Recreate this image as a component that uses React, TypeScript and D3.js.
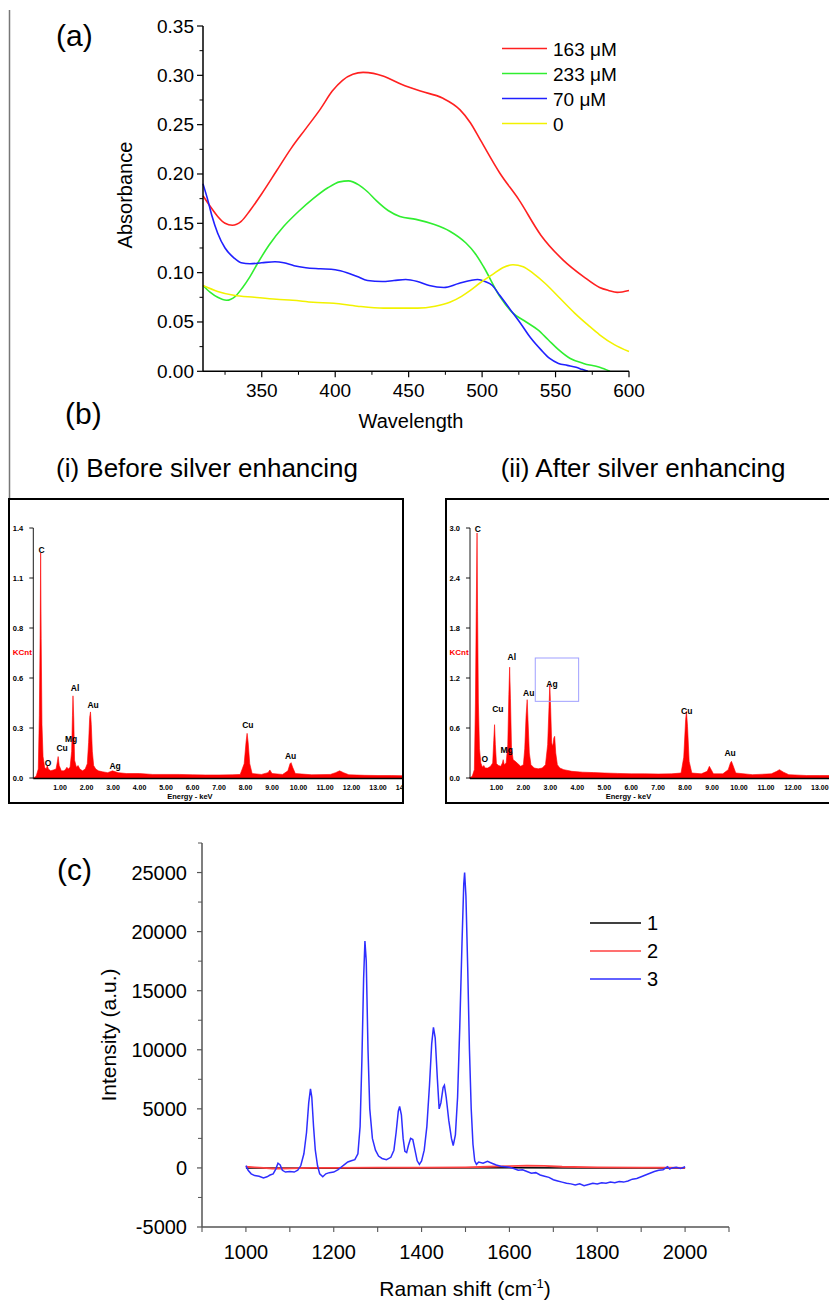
import React from "react";
import * as d3 from "d3";

const FONT = "'Liberation Sans', Arial, Helvetica, sans-serif";

// ---------- Panel (a) data: [wavelength nm, absorbance]
const seriesNamesA = ["163 μM", "233 μM", "70 μM", "0"];
const colorsA = ["#ff2020", "#30ee30", "#2020ff", "#f2f200"];
const abs163: [number, number][] = [
  [310, 0.178], [315, 0.167], [320, 0.157], [325, 0.150], [330, 0.148], [336, 0.152], [342, 0.163],
  [350, 0.180], [360, 0.203], [370, 0.226], [380, 0.246], [390, 0.266], [398, 0.284], [405, 0.295],
  [412, 0.301], [419, 0.303], [426, 0.302], [433, 0.299], [445, 0.291], [458, 0.284], [473, 0.277],
  [485, 0.265], [492, 0.252], [499, 0.234], [512, 0.201], [525, 0.174], [540, 0.138], [555, 0.113],
  [569, 0.096], [580, 0.085], [586, 0.082], [592, 0.080], [600, 0.082],
];
const abs233: [number, number][] = [
  [310, 0.087], [315, 0.080], [320, 0.075], [326, 0.072], [332, 0.076], [337, 0.085], [342, 0.096],
  [347, 0.109], [355, 0.128], [365, 0.147], [375, 0.162], [385, 0.175], [395, 0.186], [403, 0.192],
  [409, 0.193], [416, 0.189], [422, 0.182], [428, 0.173], [436, 0.163], [444, 0.157], [455, 0.154],
  [467, 0.149], [478, 0.142], [489, 0.130], [495, 0.120], [501, 0.106], [512, 0.076], [521, 0.059],
  [530, 0.050], [538, 0.042], [545, 0.032], [552, 0.022], [560, 0.013], [569, 0.008], [580, 0.004],
  [587, 0.0],
];
const abs70: [number, number][] = [
  [310, 0.190], [313, 0.175], [316, 0.158], [320, 0.140], [325, 0.125], [331, 0.115], [336, 0.110],
  [342, 0.109], [350, 0.110], [359, 0.111], [365, 0.110], [372, 0.107], [380, 0.105], [390, 0.104],
  [400, 0.103], [408, 0.100], [415, 0.096], [422, 0.092], [432, 0.091], [440, 0.092], [448, 0.093],
  [456, 0.091], [464, 0.087], [474, 0.085], [484, 0.089], [492, 0.092], [497, 0.093], [502, 0.091],
  [507, 0.087], [512, 0.077], [519, 0.063], [526, 0.049], [533, 0.034], [540, 0.022], [546, 0.013],
  [552, 0.008], [558, 0.006], [564, 0.004], [568, 0.002], [572, 0.0],
];
const abs0: [number, number][] = [
  [310, 0.087], [320, 0.081], [331, 0.077], [345, 0.075], [360, 0.073], [371, 0.072], [385, 0.070],
  [399, 0.069], [415, 0.066], [433, 0.064], [445, 0.064], [456, 0.064], [468, 0.066], [478, 0.070],
  [486, 0.076], [492, 0.082], [499, 0.090], [507, 0.098], [514, 0.105], [521, 0.108], [528, 0.106],
  [535, 0.099], [543, 0.089], [553, 0.074], [563, 0.059], [572, 0.047], [580, 0.037], [590, 0.027],
  [600, 0.020],
];
const xTicksA = [350, 400, 450, 500, 550, 600];
const yTicksA = [0, 0.05, 0.1, 0.15, 0.2, 0.25, 0.3, 0.35];

// ---------- Panel (b) EDS data: [keV, KCnt]
const edsBefore: [number, number][] = [
  [0.0, 0], [0.1, 0.01], [0.18, 0.05], [0.22, 0.35], [0.25, 0.8], [0.27, 1.26], [0.29, 0.78], [0.32, 0.3],
  [0.36, 0.12], [0.42, 0.06], [0.48, 0.05], [0.52, 0.07], [0.56, 0.05], [0.65, 0.04], [0.75, 0.045],
  [0.85, 0.05], [0.9, 0.09], [0.93, 0.12], [0.97, 0.07], [1.05, 0.04], [1.15, 0.04], [1.22, 0.05],
  [1.26, 0.06], [1.31, 0.05], [1.38, 0.06], [1.44, 0.15], [1.47, 0.35], [1.49, 0.46], [1.52, 0.33],
  [1.55, 0.1], [1.62, 0.06], [1.68, 0.07], [1.75, 0.05], [1.85, 0.04], [1.95, 0.05], [2.03, 0.08],
  [2.08, 0.2], [2.12, 0.34], [2.15, 0.37], [2.18, 0.3], [2.22, 0.15], [2.27, 0.07], [2.35, 0.05],
  [2.45, 0.04], [2.6, 0.035], [2.8, 0.03], [2.98, 0.04], [3.2, 0.03], [3.5, 0.025], [4.0, 0.025],
  [4.5, 0.02], [5.0, 0.02], [5.5, 0.02], [6.0, 0.018], [6.5, 0.017], [7.0, 0.017], [7.5, 0.018],
  [7.8, 0.02], [7.95, 0.08], [8.02, 0.2], [8.06, 0.25], [8.1, 0.2], [8.16, 0.08], [8.25, 0.025],
  [8.6, 0.02], [8.85, 0.03], [8.92, 0.045], [9.0, 0.025], [9.4, 0.02], [9.6, 0.04], [9.68, 0.08],
  [9.72, 0.086], [9.78, 0.06], [9.88, 0.025], [10.5, 0.018], [11.2, 0.02], [11.4, 0.03], [11.55, 0.04],
  [11.7, 0.03], [11.9, 0.018], [12.5, 0.015], [13.0, 0.014], [13.5, 0.014], [14.0, 0.013],
];
const edsAfter: [number, number][] = [
  [0.0, 0], [0.1, 0.02], [0.18, 0.1], [0.22, 0.9], [0.25, 2.0], [0.28, 2.94], [0.3, 2.0], [0.33, 0.9],
  [0.37, 0.35], [0.42, 0.18], [0.48, 0.13], [0.53, 0.15], [0.58, 0.12], [0.68, 0.12], [0.78, 0.14],
  [0.86, 0.18], [0.9, 0.45], [0.93, 0.64], [0.96, 0.4], [1.0, 0.17], [1.08, 0.15], [1.16, 0.14],
  [1.22, 0.18], [1.25, 0.22], [1.29, 0.16], [1.36, 0.18], [1.42, 0.4], [1.46, 1.0], [1.49, 1.33],
  [1.52, 0.95], [1.56, 0.35], [1.62, 0.22], [1.7, 0.2], [1.8, 0.17], [1.9, 0.14], [2.0, 0.16],
  [2.05, 0.35], [2.1, 0.75], [2.14, 0.94], [2.17, 0.7], [2.22, 0.3], [2.28, 0.16], [2.4, 0.12],
  [2.55, 0.11], [2.7, 0.12], [2.82, 0.16], [2.9, 0.4], [2.95, 0.85], [2.98, 1.12], [3.01, 0.85],
  [3.05, 0.42], [3.09, 0.38], [3.13, 0.48], [3.16, 0.5], [3.2, 0.3], [3.26, 0.16], [3.35, 0.12],
  [3.5, 0.1], [3.8, 0.08], [4.2, 0.07], [4.6, 0.065], [5.0, 0.06], [5.5, 0.055], [6.0, 0.05],
  [6.5, 0.05], [7.0, 0.048], [7.5, 0.05], [7.85, 0.06], [7.95, 0.25], [8.02, 0.7], [8.05, 0.8],
  [8.09, 0.62], [8.15, 0.2], [8.25, 0.06], [8.6, 0.05], [8.82, 0.08], [8.9, 0.14], [8.97, 0.1],
  [9.05, 0.05], [9.4, 0.05], [9.6, 0.1], [9.68, 0.18], [9.72, 0.2], [9.78, 0.15], [9.88, 0.06],
  [10.5, 0.04], [11.2, 0.05], [11.4, 0.08], [11.5, 0.1], [11.65, 0.07], [11.85, 0.04], [12.5, 0.03],
  [13.0, 0.03], [13.5, 0.03], [14.0, 0.03],
];
// peak annotations: [element, keV, KCnt at label baseline]
const labelsBefore: [string, number, number][] = [
  ["C", 0.3, 1.26], ["O", 0.55, 0.067], ["Cu", 1.08, 0.15], ["Mg", 1.42, 0.2], ["Al", 1.57, 0.49],
  ["Au", 2.25, 0.39], ["Ag", 3.08, 0.05], ["Cu", 8.09, 0.28], ["Au", 9.7, 0.106],
];
const labelsAfter: [string, number, number][] = [
  ["C", 0.31, 2.95], ["O", 0.57, 0.19], ["Cu", 1.05, 0.79], ["Mg", 1.38, 0.3], ["Al", 1.57, 1.42],
  ["Au", 2.2, 0.98], ["Ag", 3.06, 1.09], ["Cu", 8.06, 0.77], ["Au", 9.67, 0.27],
];
const agBox = { k0: 2.44, k1: 4.05, v0: 0.92, v1: 1.44 };
const keVTicksBefore = [1, 2, 3, 4, 5, 6, 7, 8, 9, 10, 11, 12, 13, 14];
const keVTicksAfter = [1, 2, 3, 4, 5, 6, 7, 8, 9, 10, 11, 12, 13];
const yTicksBefore = [0, 0.28, 0.56, 0.84, 1.12, 1.4];
const yTicksAfter = [0, 0.6, 1.2, 1.8, 2.4, 3.0];

// ---------- Panel (c) Raman data: [cm-1, intensity]
const raman3: [number, number][] = [
  [1000, 200], [1005, -200], [1012, -500], [1020, -650], [1030, -700], [1040, -850], [1048, -750],
  [1055, -600], [1062, -500], [1068, -100], [1073, 400], [1078, 250], [1083, -200], [1090, -350],
  [1100, -300], [1110, -350], [1118, -200], [1125, 200], [1132, 1200], [1138, 3000], [1143, 5500],
  [1147, 6700], [1150, 6000], [1154, 3500], [1158, 1500], [1163, 200], [1168, -500], [1175, -750],
  [1182, -500], [1190, -400], [1200, -350], [1210, -150], [1218, 100], [1225, 300], [1232, 500],
  [1240, 600], [1248, 700], [1255, 1200], [1260, 3500], [1264, 9000], [1268, 16000], [1271, 19200],
  [1274, 17500], [1278, 10000], [1282, 5000], [1288, 2500], [1295, 1500], [1302, 1000], [1310, 800],
  [1320, 700], [1330, 900], [1337, 1500], [1342, 3000], [1347, 4800], [1350, 5200], [1354, 4500],
  [1358, 2500], [1362, 1400], [1366, 1300], [1370, 1900], [1375, 2500], [1380, 2400], [1385, 1500],
  [1390, 600], [1395, 300], [1400, 600], [1406, 1500], [1412, 3500], [1418, 7000], [1423, 10500],
  [1427, 11900], [1431, 11000], [1436, 7500], [1440, 5000], [1444, 5500], [1449, 6800], [1452, 7000],
  [1456, 6000], [1462, 4000], [1468, 2500], [1472, 1900], [1477, 2800], [1482, 6000], [1487, 12000],
  [1492, 19000], [1496, 24000], [1498, 25000], [1501, 23000], [1505, 17000], [1509, 10000],
  [1513, 5000], [1517, 2000], [1521, 600], [1525, 300], [1530, 500], [1540, 400], [1550, 550],
  [1560, 400], [1570, 250], [1580, 150], [1590, 100], [1600, 50], [1610, -50], [1620, -200],
  [1630, -150], [1640, -300], [1650, -450], [1660, -400], [1670, -600], [1680, -700], [1690, -800],
  [1700, -1000], [1710, -1100], [1720, -1200], [1730, -1300], [1740, -1350], [1750, -1450],
  [1760, -1350], [1770, -1500], [1780, -1400], [1790, -1300], [1800, -1350], [1810, -1250],
  [1820, -1300], [1830, -1200], [1840, -1250], [1850, -1150], [1860, -1200], [1870, -1100],
  [1880, -950], [1890, -900], [1900, -750], [1910, -600], [1920, -450], [1930, -300], [1940, -200],
  [1950, -150], [1960, 100], [1965, -100], [1970, 0], [1980, 50], [1990, -50], [2000, 100],
];
const raman2: [number, number][] = [
  [1000, 100], [1020, 50], [1040, 0], [1060, -50], [1080, -50], [1100, -30], [1150, 0], [1200, 0],
  [1300, 20], [1400, 30], [1500, 50], [1550, 100], [1600, 150], [1640, 200], [1680, 180], [1720, 100],
  [1800, 50], [1900, 20], [1960, 30], [2000, 0],
];
const raman1: [number, number][] = [
  [1000, 0], [1200, -20], [1400, 0], [1600, 20], [1800, 0], [2000, 0],
];
const namesC = ["1", "2", "3"];
const colorsC = ["#000000", "#ff4040", "#2e2eff"];
const xTicksC = [1000, 1200, 1400, 1600, 1800, 2000];
const yTicksC = [-5000, 0, 5000, 10000, 15000, 20000, 25000];

function EDS(props: {
  id: string; data: [number, number][]; labels: [string, number, number][]; ticks: number[];
  x0: number; pxPerKeV: number; yMax: number; yTicks: number[];
  box: [number, number, number, number]; axisX: number; showAgBox?: boolean;
}) {
  const { id, data, labels, ticks, x0, pxPerKeV, yMax, yTicks, box, axisX, showAgBox } = props;
  const x = d3.scaleLinear().domain([0, 14]).range([x0, x0 + 14 * pxPerKeV]);
  const y = d3.scaleLinear().domain([0, yMax]).range([778, 528]);
  const area = d3.area<[number, number]>().x(d => x(d[0])).y0(y(0)).y1(d => y(d[1]));
  const [bx, by, bw, bh] = box;
  return (
    <g>
      <defs>
        <clipPath id={id}>
          <rect x={bx} y={by} width={bw} height={bh} />
        </clipPath>
      </defs>
      <g clipPath={`url(#${id})`}>
        <path d={area(data) || ""} fill="#ff0000" stroke="#ff0000" strokeWidth={0.6} />
        <line x1={axisX} x2={bx + bw} y1={778.5} y2={778.5} stroke="#000" strokeWidth={1.6} />
        <line x1={axisX} x2={axisX} y1={y(yMax)} y2={778.5} stroke="#000" strokeWidth={0.9} />
        {yTicks.map((t, i) => (
          <g key={i}>
            <line x1={axisX - 4} x2={axisX} y1={y(t)} y2={y(t)} stroke="#000" strokeWidth={0.9} />
            <text x={axisX - 10} y={y(t) + 2.5} fontSize={7.5} fontWeight="bold" textAnchor="end" fontFamily={FONT}>
              {d3.format(".1f")(t)}
            </text>
          </g>
        ))}
        {ticks.map((t, i) => (
          <text key={i} x={x(t)} y={790} fontSize={7} fontWeight="bold" textAnchor="middle" fontFamily={FONT}>
            {d3.format(".2f")(t)}
          </text>
        ))}
        <text x={x(5.9)} y={799} fontSize={7.5} fontWeight="bold" textAnchor="middle" fontFamily={FONT}>
          Energy - keV
        </text>
        <text x={axisX - 11} y={655} fontSize={8} fontWeight="bold" textAnchor="middle" fill="#ff0000" fontFamily={FONT}>
          KCnt
        </text>
        {labels.map((l, i) => (
          <text key={i} x={x(l[1])} y={y(l[2])} fontSize={8.5} fontWeight="bold" textAnchor="middle" fontFamily={FONT}>
            {l[0]}
          </text>
        ))}
        {showAgBox && (
          <rect x={x(agBox.k0)} y={y(agBox.v1)} width={x(agBox.k1) - x(agBox.k0)} height={y(agBox.v0) - y(agBox.v1)}
            fill="none" stroke="#a0a0ff" strokeWidth={1} />
        )}
      </g>
      <rect x={bx} y={by} width={bw} height={bh} fill="none" stroke="#000" strokeWidth={2} />
    </g>
  );
}

export default function App() {
  // Panel (a)
  const xA = d3.scaleLinear().domain([310, 600]).range([203, 629]);
  const yA = d3.scaleLinear().domain([0, 0.35]).range([371.3, 26]);
  const lineA = d3.line<[number, number]>().x(d => xA(d[0])).y(d => yA(d[1])).curve(d3.curveMonotoneX);
  const seriesA = [abs163, abs233, abs70, abs0];
  const minorXA = d3.range(325, 600, 50);
  const minorYA = d3.range(0.025, 0.35, 0.05);

  // Panel (c)
  const xC = d3.scaleLinear().domain([900, 2100]).range([202, 729]);
  const yC = d3.scaleLinear().domain([-5000, 27500]).range([1227, 843]);
  const lineC = d3.line<[number, number]>().x(d => xC(d[0])).y(d => yC(d[1]));
  const seriesC = [raman1, raman2, raman3];
  const minorXC = d3.range(900, 2101, 100);
  const minorYC = d3.range(-2500, 27501, 5000);

  return (
    <svg width={829} height={1300} viewBox="0 0 829 1300"
      style={{ position: "absolute", left: 0, top: 0, background: "#fff" }} fontFamily={FONT}>
      <rect x={0} y={0} width={829} height={1300} fill="#fff" />
      {/* left frame line */}
      <line x1={9.5} x2={9.5} y1={10} y2={499} stroke="#777" strokeWidth={1.5} />

      {/* ---------- Panel (a) ---------- */}
      <text x={56} y={46} fontSize={30} fontFamily={FONT}>(a)</text>
      {seriesA.map((s, i) => (
        <path key={i} d={lineA(s) || ""} fill="none" stroke={colorsA[i]} strokeWidth={1.6} />
      ))}
      <line x1={xA(310)} x2={xA(310)} y1={yA(0.35)} y2={yA(0)} stroke="#000" strokeWidth={1.5} />
      <line x1={xA(310)} x2={xA(600)} y1={yA(0)} y2={yA(0)} stroke="#000" strokeWidth={1.5} />
      {yTicksA.map((t, i) => (
        <g key={i}>
          <line x1={xA(310) - 6} x2={xA(310)} y1={yA(t)} y2={yA(t)} stroke="#000" strokeWidth={1.2} />
          <text x={xA(310) - 9} y={yA(t) + 6.5} fontSize={19} textAnchor="end">{d3.format(".2f")(t)}</text>
        </g>
      ))}
      {minorYA.map((t, i) => (
        <line key={i} x1={xA(310) - 3.5} x2={xA(310)} y1={yA(t)} y2={yA(t)} stroke="#000" strokeWidth={1} />
      ))}
      {xTicksA.map((t, i) => (
        <g key={i}>
          <line x1={xA(t)} x2={xA(t)} y1={yA(0)} y2={yA(0) + 6} stroke="#000" strokeWidth={1.2} />
          <text x={xA(t)} y={397} fontSize={19} textAnchor="middle">{t}</text>
        </g>
      ))}
      {minorXA.map((t, i) => (
        <line key={i} x1={xA(t)} x2={xA(t)} y1={yA(0)} y2={yA(0) + 3.5} stroke="#000" strokeWidth={1} />
      ))}
      <text x={411} y={428} fontSize={20} textAnchor="middle">Wavelength</text>
      <text transform="translate(132,195) rotate(-90)" fontSize={20} textAnchor="middle">Absorbance</text>
      {seriesNamesA.map((n, i) => (
        <g key={i}>
          <line x1={502} x2={547} y1={48.5 + i * 25} y2={48.5 + i * 25} stroke={colorsA[i]} strokeWidth={1.6} />
          <text x={553} y={55.5 + i * 25} fontSize={19}>{n}</text>
        </g>
      ))}

      {/* ---------- Panel (b) ---------- */}
      <text x={65} y={424} fontSize={30} fontFamily={FONT}>(b)</text>
      <text x={207} y={477} fontSize={26} textAnchor="middle">(i) Before silver enhancing</text>
      <text x={643} y={477} fontSize={26} textAnchor="middle">(ii) After silver enhancing</text>
      <EDS id="edsL" data={edsBefore} labels={labelsBefore} ticks={keVTicksBefore} x0={33.5} pxPerKeV={26.5} yMax={1.4}
        yTicks={yTicksBefore} box={[9, 499, 394, 304]} axisX={33.3} />
      <EDS id="edsR" data={edsAfter} labels={labelsAfter} ticks={keVTicksAfter} x0={469.5} pxPerKeV={26.95} yMax={3.0}
        yTicks={yTicksAfter} box={[446, 499, 400, 304]} axisX={470} showAgBox />

      {/* ---------- Panel (c) ---------- */}
      <text x={57} y={880} fontSize={30} fontFamily={FONT}>(c)</text>
      {seriesC.map((s, i) => (
        <path key={i} d={lineC(s) || ""} fill="none" stroke={colorsC[i]} strokeWidth={i === 1 ? 1.8 : 1.5} />
      ))}
      <line x1={xC(900)} x2={xC(900)} y1={yC(27500)} y2={yC(-5000)} stroke="#555" strokeWidth={1.5} />
      <line x1={xC(900)} x2={xC(2100)} y1={yC(-5000)} y2={yC(-5000)} stroke="#555" strokeWidth={1.5} />
      {yTicksC.map((t, i) => (
        <g key={i}>
          <line x1={xC(900) - 5} x2={xC(900)} y1={yC(t)} y2={yC(t)} stroke="#555" strokeWidth={1.2} />
          <text x={xC(900) - 15} y={yC(t) + 7} fontSize={20} textAnchor="end">{t}</text>
        </g>
      ))}
      {minorYC.map((t, i) => (
        <line key={i} x1={xC(900) - 4} x2={xC(900)} y1={yC(t)} y2={yC(t)} stroke="#555" strokeWidth={1} />
      ))}
      {minorXC.map((t, i) => (
        <line key={i} x1={xC(t)} x2={xC(t)} y1={yC(-5000)} y2={yC(-5000) + 5} stroke="#555" strokeWidth={1.1} />
      ))}
      {xTicksC.map((t, i) => (
        <text key={i} x={xC(t)} y={1259} fontSize={20} textAnchor="middle">{t}</text>
      ))}
      <text x={465} y={1296} fontSize={21} textAnchor="middle">
        Raman shift (cm<tspan dy={-8} fontSize={13}>-1</tspan><tspan dy={8}>)</tspan>
      </text>
      <text transform="translate(116,1035) rotate(-90)" fontSize={21} textAnchor="middle">Intensity (a.u.)</text>
      {namesC.map((n, i) => (
        <g key={i}>
          <line x1={590} x2={641} y1={923 + i * 28} y2={923 + i * 28} stroke={colorsC[i]} strokeWidth={1.5} />
          <text x={647} y={930 + i * 28} fontSize={20}>{n}</text>
        </g>
      ))}
    </svg>
  );
}
